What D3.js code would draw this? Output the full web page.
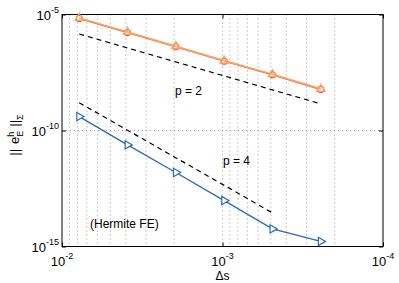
<!DOCTYPE html>
<html>
<head>
<meta charset="utf-8">
<script src="https://cdn.jsdelivr.net/npm/d3@7"></script>
<style>
  body { margin: 0; background: #fff; }
  text { font-family: "Liberation Sans", Arial, Helvetica, sans-serif; fill: #000; }
</style>
</head>
<body>
<script>
// step sizes 1/128 ... 1/4096
const ds = [1 / 128, 1 / 256, 1 / 512, 1 / 1024, 1 / 2048, 1 / 4096];

// error norms
const errRed = [6.76e-6, 1.66e-6, 4.07e-7, 9.77e-8, 2.51e-8, 5.89e-9];
const errOrange = [7.06e-6, 1.76e-6, 4.27e-7, 1.02e-7, 2.66e-8, 6.17e-9];
const errBlue = [3.98e-10, 2.4e-11, 1.55e-12, 9.55e-14, 5.75e-15, 1.66e-15];

// reference slopes
const refP2Ds = [1 / 128, 1 / 4096];
const refP2Err = [1.45e-6, 1.41e-9];
const refP4Ds = [1 / 128, 1 / 2048];
const refP4Err = [1.58e-9, 2.82e-14];

// tick labels
const xTicks = [1e-2, 1e-3, 1e-4];
const xTickExp = ["-2", "-3", "-4"];
const yTicks = [1e-15, 1e-10, 1e-5];
const yTickExp = ["-15", "-10", "-5"];

const margin = { top: 14.5, right: 16, bottom: 36.5, left: 62 };
const W = 399, H = 283;
const width = W - margin.left - margin.right;
const height = H - margin.top - margin.bottom;

const svg = d3.select("body").append("svg")
  .attr("width", W)
  .attr("height", H);

const g = svg.append("g")
  .attr("transform", `translate(${margin.left},${margin.top})`);

// reversed x axis
const x = d3.scaleLog().domain([1e-2, 1e-4]).range([0, width]);
const y = d3.scaleLog().domain([1e-15, 1e-5]).range([height, 0]);

// dotted grid
g.append("g")
  .selectAll("line")
  .data(x.ticks().filter((d) => d < 1e-2 * 0.999 && d > 1e-4 * 1.001))
  .enter().append("line")
  .attr("x1", (d) => x(d)).attr("x2", (d) => x(d))
  .attr("y1", 0).attr("y2", height)
  .attr("stroke", "#808080").attr("stroke-width", 0.8)
  .attr("stroke-dasharray", "1,3");

g.append("line")
  .attr("x1", 0).attr("x2", width)
  .attr("y1", y(1e-10)).attr("y2", y(1e-10))
  .attr("stroke", "#808080").attr("stroke-width", 0.8)
  .attr("stroke-dasharray", "1,3");

// inward ticks on all sides
const tickLen = 4;
const axes = [
  [d3.axisBottom(x).tickValues(xTicks).tickSize(tickLen), `translate(0,${height}) scale(1,-1)`],
  [d3.axisTop(x).tickValues(xTicks).tickSize(tickLen), "scale(1,-1)"],
  [d3.axisLeft(y).tickValues(yTicks).tickSize(tickLen), "scale(-1,1)"],
  [d3.axisRight(y).tickValues(yTicks).tickSize(tickLen), `translate(${width},0) scale(-1,1)`],
];
axes.forEach(([ax, tr]) => {
  const a = g.append("g").attr("transform", tr).call(ax.tickFormat(""));
  a.select(".domain").remove();
  a.selectAll(".tick line").attr("stroke", "#000");
});

// box
g.append("rect")
  .attr("width", width).attr("height", height)
  .attr("fill", "none").attr("stroke", "#000").attr("stroke-width", 1);

// tick labels with superscripts
xTicks.forEach((t, i) => {
  const tx = g.append("text")
    .attr("x", x(t)).attr("y", height + 19.5)
    .attr("text-anchor", "middle")
    .style("font-size", "13px");
  tx.append("tspan").text("10");
  tx.append("tspan").attr("dy", -7).style("font-size", "9px").text(xTickExp[i]);
});

yTicks.forEach((t, i) => {
  const ty = g.append("text")
    .attr("x", -3).attr("y", y(t) + 5)
    .attr("text-anchor", "end")
    .style("font-size", "13px");
  ty.append("tspan").text("10");
  ty.append("tspan").attr("dy", -7).style("font-size", "9px").text(yTickExp[i]);
});

// axis titles
g.append("text")
  .attr("x", x(1e-3)).attr("y", height + 33.5)
  .attr("text-anchor", "middle")
  .style("font-size", "12px")
  .text("Δs");

const yl = svg.append("text")
  .attr("transform", "translate(19,135) rotate(-90)")
  .attr("text-anchor", "middle")
  .style("font-size", "13px");
yl.append("tspan").text("||");
yl.append("tspan").attr("dx", 5).text("e");
yl.append("tspan").attr("dy", -5).style("font-size", "9px").text("h");
yl.append("tspan").attr("dx", -5).attr("dy", 9).style("font-size", "9px").text("E");
yl.append("tspan").attr("dx", 4).attr("dy", -4).text("||");
yl.append("tspan").attr("dy", 4).style("font-size", "9px").text("Σ");

// lines
const line = d3.line().x((d) => x(d[0])).y((d) => y(d[1]));

function series(xs, ys, color, width, dash) {
  g.append("path")
    .datum(xs.map((d, i) => [d, ys[i]]))
    .attr("d", line)
    .attr("fill", "none")
    .attr("stroke", color)
    .attr("stroke-width", width)
    .attr("stroke-dasharray", dash || null);
}

series(refP2Ds, refP2Err, "#000", 1.2, "5,4");
series(refP4Ds, refP4Err, "#000", 1.2, "5,4");

const red = "#ec5a60", orange = "#f6a45e", blue = "#2a68bb";

series(ds, errRed, red, 1.5);
g.append("g").selectAll("circle")
  .data(ds).enter().append("circle")
  .attr("cx", (d) => x(d)).attr("cy", (d, i) => y(errRed[i]))
  .attr("r", 3).attr("fill", "#fff").attr("stroke", red).attr("stroke-width", 1.2);

series(ds, errOrange, orange, 1.8);
g.append("g").selectAll("path")
  .data(ds).enter().append("path")
  .attr("d", d3.symbol(d3.symbolTriangle, 30))
  .attr("transform", (d, i) => `translate(${x(d)},${y(errOrange[i])})`)
  .attr("fill", "none").attr("stroke", orange).attr("stroke-width", 1.2);

series(ds, errBlue, blue, 1.3);
g.append("g").selectAll("path")
  .data(ds).enter().append("path")
  .attr("d", d3.symbol(d3.symbolTriangle, 30))
  .attr("transform", (d, i) => `translate(${x(d)},${y(errBlue[i])}) rotate(90)`)
  .attr("fill", "#fff").attr("stroke", blue).attr("stroke-width", 1.2);

// annotations
g.append("text").attr("x", 175 - margin.left).attr("y", 95 - margin.top)
  .style("font-size", "12px").text("p = 2");
g.append("text").attr("x", 223 - margin.left).attr("y", 165 - margin.top)
  .style("font-size", "12px").text("p = 4");
g.append("text").attr("x", 90 - margin.left).attr("y", 228 - margin.top)
  .style("font-size", "12px").text("(Hermite FE)");
</script>
</body>
</html>
